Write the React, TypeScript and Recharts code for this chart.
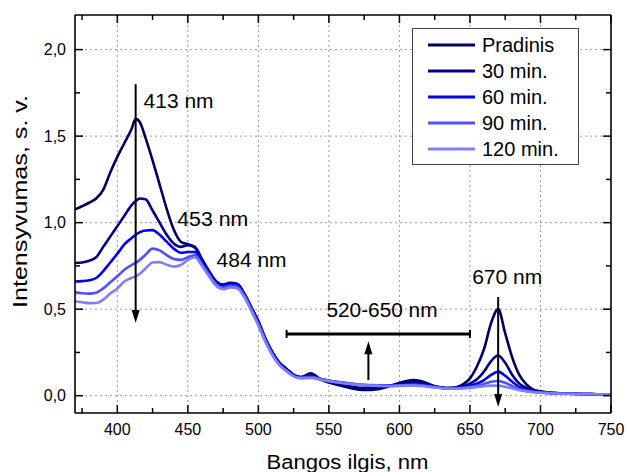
import React from 'react';
import {
  LineChart,
  Line,
  XAxis,
  YAxis,
  CartesianGrid,
  ReferenceLine,
  ReferenceDot,
  Legend,
} from 'recharts';

const wavelengths = [
  370, 375, 380, 385, 390, 395, 400, 405, 410, 413,
  416, 420, 425, 430, 435, 440, 445, 450, 455, 460,
  465, 470, 475, 480, 485, 490, 495, 500, 505, 510,
  515, 520, 525, 530, 537, 545, 555, 565, 575, 585,
  595, 605, 610, 615, 625, 635, 645, 650, 655, 660,
  665, 670, 675, 680, 685, 690, 695, 700, 710, 720,
  730, 740, 750,
];

const pradinis = [
  1.076, 1.095, 1.115, 1.14, 1.19, 1.29, 1.38, 1.46, 1.54, 1.60,
  1.58, 1.49, 1.36, 1.22, 1.08, 0.96, 0.89, 0.875, 0.86, 0.79,
  0.72, 0.66, 0.64, 0.65, 0.645, 0.59, 0.51, 0.43, 0.33, 0.25,
  0.19, 0.155, 0.12, 0.105, 0.13, 0.09, 0.065, 0.045, 0.033, 0.038,
  0.06, 0.085, 0.09, 0.085, 0.055, 0.04, 0.065, 0.10, 0.17, 0.27,
  0.42, 0.50, 0.36, 0.22, 0.12, 0.065, 0.035, 0.025, 0.015, 0.012,
  0.01, 0.008, 0.006,
];

const min30 = [
  0.767, 0.77, 0.78, 0.80, 0.86, 0.92, 0.98, 1.04, 1.10, 1.125,
  1.14, 1.135, 1.07, 1.00, 0.93, 0.88, 0.86, 0.87, 0.855, 0.785,
  0.72, 0.662, 0.642, 0.652, 0.645, 0.59, 0.51, 0.43, 0.33, 0.25,
  0.19, 0.155, 0.12, 0.108, 0.12, 0.09, 0.07, 0.055, 0.045, 0.048,
  0.06, 0.078, 0.08, 0.075, 0.055, 0.045, 0.055, 0.07, 0.095, 0.14,
  0.20, 0.232, 0.19, 0.12, 0.07, 0.045, 0.03, 0.022, 0.015, 0.012,
  0.01, 0.008, 0.006,
];

const min60 = [
  0.66, 0.662, 0.667, 0.68, 0.72, 0.77, 0.82, 0.875, 0.91, 0.93,
  0.945, 0.955, 0.957, 0.93, 0.89, 0.85, 0.826, 0.83, 0.83, 0.77,
  0.71, 0.655, 0.635, 0.645, 0.64, 0.585, 0.505, 0.42, 0.325, 0.245,
  0.185, 0.15, 0.12, 0.108, 0.112, 0.095, 0.08, 0.07, 0.062, 0.06,
  0.058, 0.066, 0.068, 0.065, 0.052, 0.043, 0.048, 0.058, 0.07, 0.09,
  0.12, 0.139, 0.115, 0.08, 0.05, 0.035, 0.025, 0.02, 0.015, 0.012,
  0.01, 0.008, 0.006,
];

const min90 = [
  0.597, 0.592, 0.59, 0.595, 0.62, 0.655, 0.69, 0.728, 0.755, 0.767,
  0.785, 0.815, 0.85, 0.84, 0.812, 0.79, 0.785, 0.80, 0.812, 0.76,
  0.70, 0.645, 0.625, 0.635, 0.63, 0.578, 0.50, 0.415, 0.32, 0.24,
  0.18, 0.145, 0.115, 0.105, 0.108, 0.095, 0.08, 0.07, 0.063, 0.06,
  0.057, 0.062, 0.063, 0.06, 0.05, 0.042, 0.045, 0.05, 0.058, 0.068,
  0.08, 0.085, 0.075, 0.055, 0.038, 0.028, 0.022, 0.018, 0.014, 0.011,
  0.01, 0.008, 0.006,
];

const min120 = [
  0.545, 0.54, 0.535, 0.536, 0.555, 0.59, 0.62, 0.66, 0.68, 0.69,
  0.705, 0.735, 0.77, 0.772, 0.757, 0.746, 0.755, 0.785, 0.80, 0.75,
  0.69, 0.635, 0.615, 0.625, 0.62, 0.57, 0.49, 0.405, 0.31, 0.232,
  0.175, 0.14, 0.112, 0.10, 0.102, 0.09, 0.078, 0.068, 0.06, 0.057,
  0.055, 0.058, 0.058, 0.056, 0.047, 0.04, 0.042, 0.045, 0.05, 0.055,
  0.058, 0.058, 0.052, 0.042, 0.032, 0.025, 0.02, 0.017, 0.013, 0.011,
  0.01, 0.008, 0.006,
];

const seriesNames = ['Pradinis', '30 min.', '60 min.', '90 min.', '120 min.'];
const seriesKeys = ['s0', 's1', 's2', 's3', 's4'];
const seriesColors = ['#00005E', '#00008C', '#0000F0', '#5050FF', '#8080F5'];

const xMajorTicks = [400, 450, 500, 550, 600, 650, 700, 750];
const xMinorTicks = [375, 425, 475, 525, 575, 625, 675, 725];
const yMajorTicks = [0, 0.5, 1, 1.5, 2];
const yMinorTicks = [0.25, 0.75, 1.25, 1.75];
const xDomain = [370, 750];
const yDomain = [-0.1, 2.2];

const allXTicks = [...xMinorTicks, ...xMajorTicks].sort((a, b) => a - b);
const allYTicks = [...yMajorTicks, ...yMinorTicks].sort((a, b) => a - b);

const data = wavelengths.map((nm, i) => ({
  nm,
  s0: pradinis[i],
  s1: min30[i],
  s2: min60[i],
  s3: min90[i],
  s4: min120[i],
}));

const FONT = '"Liberation Sans", Arial, sans-serif';

const isIn = (arr: number[], v: number) => arr.some((t) => Math.abs(t - v) < 1e-6);
const fmtY = (v: number) => v.toFixed(1).replace('.', ',');

const BottomTick = (props: any) => {
  const { x, y, payload } = props;
  const v = payload.value;
  const major = isIn(xMajorTicks, v);
  return (
    <g>
      <line x1={x} x2={x} y1={y} y2={y - (major ? 8 : 5)} stroke="#000" strokeWidth={1.5} />
      {major && (
        <text x={x} y={y + 22} textAnchor="middle" fontSize={16} fontFamily={FONT} fill="#000">
          {v}
        </text>
      )}
    </g>
  );
};

const LeftTick = (props: any) => {
  const { x, y, payload } = props;
  const v = payload.value;
  const major = isIn(yMajorTicks, v);
  return (
    <g>
      <line x1={x} x2={x + (major ? 8 : 5)} y1={y} y2={y} stroke="#000" strokeWidth={1.5} />
      {major && (
        <text x={x - 9} y={y} dy="0.35em" textAnchor="end" fontSize={16} fontFamily={FONT} fill="#000">
          {fmtY(v)}
        </text>
      )}
    </g>
  );
};

// inward tick on the top frame edge
const topTickShape = (major: boolean) => (p: any) => {
  const yTop = Math.min(p.y1, p.y2);
  return <line x1={p.x1} x2={p.x1} y1={yTop} y2={yTop + (major ? 8 : 5)} stroke="#000" strokeWidth={1.5} />;
};

// inward tick on the right frame edge
const rightTickShape = (major: boolean) => (p: any) => {
  const xR = Math.max(p.x1, p.x2);
  return <line x1={xR} x2={xR - (major ? 8 : 5)} y1={p.y1} y2={p.y1} stroke="#000" strokeWidth={1.5} />;
};

const ArrowShape = (props: any) => {
  const { x1, y1, x2, y2 } = props;
  const dx = x2 - x1;
  const dy = y2 - y1;
  const len = Math.hypot(dx, dy) || 1;
  const ux = dx / len;
  const uy = dy / len;
  const hl = 13;
  const hw = 4;
  const bx = x2 - ux * hl;
  const by = y2 - uy * hl;
  return (
    <g>
      <line x1={x1} y1={y1} x2={bx + ux * 2} y2={by + uy * 2} stroke="#000" strokeWidth={2} />
      <polygon
        points={`${x2},${y2} ${bx - uy * hw},${by + ux * hw} ${bx + uy * hw},${by - ux * hw}`}
        fill="#000"
      />
    </g>
  );
};

const BarShape = (props: any) => {
  const { x1, y1, x2, y2 } = props;
  return (
    <g>
      <line x1={x1} y1={y1} x2={x2} y2={y2} stroke="#000" strokeWidth={3} />
      <line x1={x1} y1={y1 - 4} x2={x1} y2={y1 + 4} stroke="#000" strokeWidth={2} />
      <line x1={x2} y1={y2 - 4} x2={x2} y2={y2 + 4} stroke="#000" strokeWidth={2} />
    </g>
  );
};

const textShape = (label: string, len: number) => (p: any) => (
  <text
    x={p.cx}
    y={p.cy}
    fontSize={20}
    fontFamily={FONT}
    fill="#000"
    textLength={len}
    lengthAdjust="spacingAndGlyphs"
  >
    {label}
  </text>
);

const annotations = [
  { label: '413 nm', nm: 418.6, v: 1.661, len: 70 },
  { label: '453 nm', nm: 442.5, v: 0.979, len: 71 },
  { label: '484 nm', nm: 470.4, v: 0.746, len: 70 },
  { label: '520-650 nm', nm: 548.3, v: 0.456, len: 111 },
  { label: '670 nm', nm: 651.6, v: 0.647, len: 70 },
];

const LegendBox = () => (
  <svg width={168} height={138} style={{ display: 'block' }}>
    <rect x={0.5} y={0.5} width={166} height={136} fill="#fff" stroke="#444" strokeWidth={1} />
    {seriesNames.map((name, i) => {
      const cy = 17 + i * 26;
      return (
        <g key={name}>
          <line x1={16} x2={63} y1={cy} y2={cy} stroke={seriesColors[i]} strokeWidth={3} />
          <text x={70} y={cy} dy="0.36em" fontSize={20} fontFamily={FONT} fill="#000">
            {name}
          </text>
        </g>
      );
    })}
  </svg>
);

export default function App() {
  return (
    <div style={{ position: 'absolute', left: 0, top: 0, width: 627, height: 472, background: '#fff' }}>
      <LineChart
        width={627}
        height={472}
        data={data}
        margin={{ top: 15, right: 16, left: 0, bottom: 0 }}
      >
        <CartesianGrid
          stroke="#9a9a9a"
          strokeDasharray="2 3"
          strokeWidth={1}
          verticalValues={[400, 450, 500, 550, 600, 650, 700]}
          horizontalValues={yMajorTicks}
        />
        <XAxis
          dataKey="nm"
          type="number"
          domain={xDomain}
          allowDataOverflow
          ticks={allXTicks}
          interval={0}
          tickSize={0}
          tickMargin={0}
          tickLine={false}
          tick={<BottomTick />}
          height={59}
          axisLine={{ stroke: '#000', strokeWidth: 1.6 }}
          label={{
            content: (p: any) => {
              const vb = p.viewBox || { x: 75, y: 413, width: 536, height: 59 };
              return (
                <text
                  x={vb.x + vb.width / 2 + 4.5}
                  y={vb.y + 56}
                  textAnchor="middle"
                  fontSize={20}
                  fontFamily={FONT}
                  fill="#000"
                  textLength={162}
                  lengthAdjust="spacingAndGlyphs"
                >
                  Bangos ilgis, nm
                </text>
              );
            },
          }}
        />
        <YAxis
          type="number"
          domain={yDomain}
          allowDataOverflow
          ticks={allYTicks}
          interval={0}
          tickSize={0}
          tickMargin={0}
          tickLine={false}
          tick={<LeftTick />}
          width={75}
          axisLine={{ stroke: '#000', strokeWidth: 1.6 }}
          label={{
            content: (p: any) => {
              const vb = p.viewBox || { x: 0, y: 15, width: 75, height: 398 };
              const cx = 27;
              const cy = vb.y + vb.height / 2 - 12.5;
              return (
                <text
                  x={cx}
                  y={cy}
                  transform={`rotate(-90, ${cx}, ${cy})`}
                  textAnchor="middle"
                  fontSize={20}
                  fontFamily={FONT}
                  fill="#000"
                  textLength={213}
                  lengthAdjust="spacingAndGlyphs"
                >
                  Intensyvumas, s. v.
                </text>
              );
            },
          }}
        />
        {seriesKeys.map((k, i) => (
          <Line
            key={k}
            dataKey={k}
            name={seriesNames[i]}
            type="monotone"
            stroke={seriesColors[i]}
            strokeWidth={2.6}
            dot={false}
            activeDot={false}
            isAnimationActive={false}
          />
        ))}
        {/* frame: top and right edges */}
        <ReferenceLine y={yDomain[1]} stroke="#000" strokeWidth={1.6} />
        <ReferenceLine x={xDomain[1]} stroke="#000" strokeWidth={1.6} />
        {allXTicks.map((t) => (
          <ReferenceLine key={`tx${t}`} x={t} shape={topTickShape(isIn(xMajorTicks, t))} />
        ))}
        {allYTicks.map((t) => (
          <ReferenceLine key={`ty${t}`} y={t} shape={rightTickShape(isIn(yMajorTicks, t))} />
        ))}
        <ReferenceLine segment={[{ x: 413, y: 1.8 }, { x: 413, y: 0.42 }]} shape={ArrowShape} />
        <ReferenceLine segment={[{ x: 670, y: 0.57 }, { x: 670, y: -0.065 }]} shape={ArrowShape} />
        <ReferenceLine segment={[{ x: 578, y: 0.09 }, { x: 578, y: 0.315 }]} shape={ArrowShape} />
        <ReferenceLine segment={[{ x: 520, y: 0.357 }, { x: 650, y: 0.357 }]} shape={BarShape} />
        {annotations.map((a) => (
          <ReferenceDot key={a.label} x={a.nm} y={a.v} r={0} shape={textShape(a.label, a.len)} />
        ))}
        <Legend
          layout="horizontal"
          verticalAlign="middle"
          align="center"
          content={() => <LegendBox />}
          wrapperStyle={{ position: 'absolute', left: 412, top: 28, width: 168, height: 138 }}
        />
      </LineChart>
    </div>
  );
}
